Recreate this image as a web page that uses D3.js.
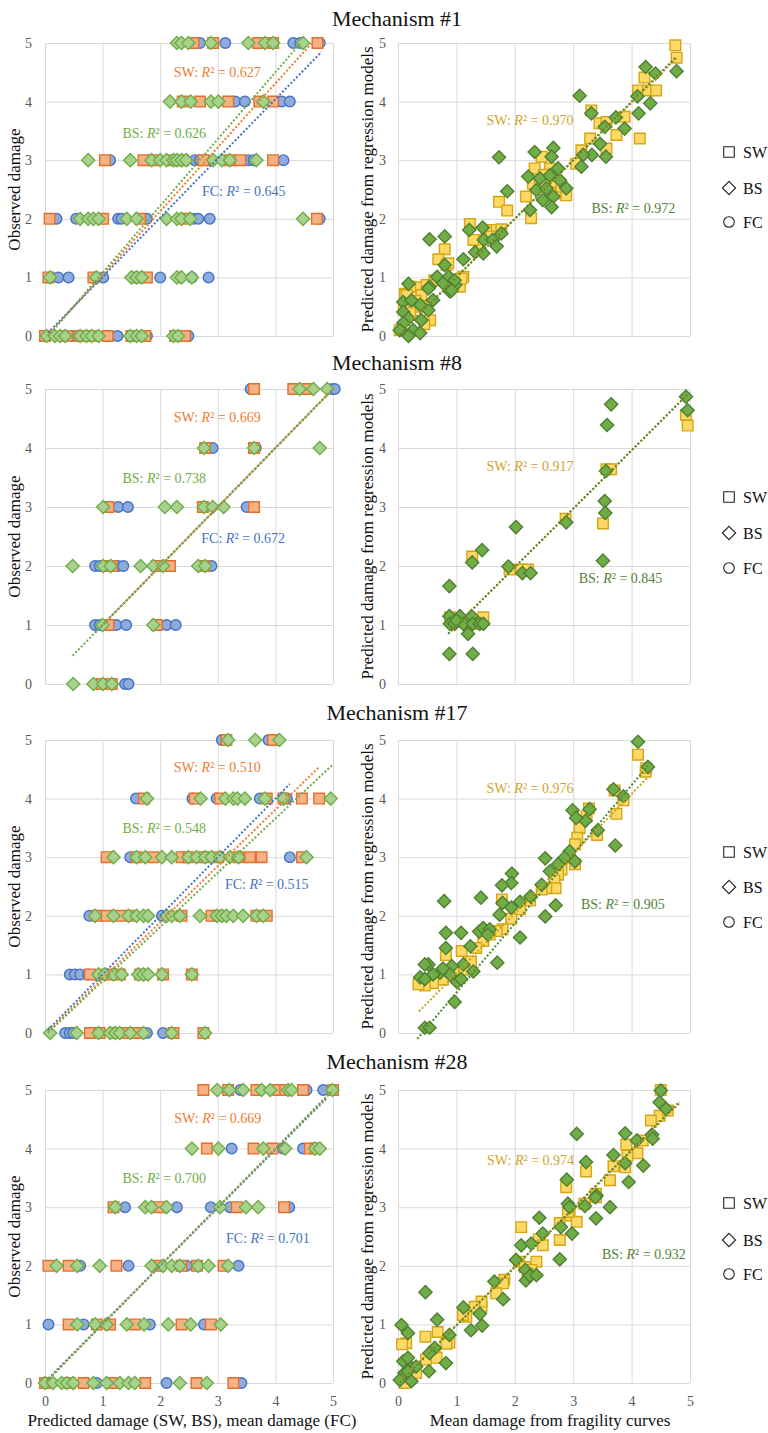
<!DOCTYPE html>
<html>
<head>
<meta charset="utf-8">
<script src="https://cdn.jsdelivr.net/npm/d3@7"></script>
<style>
  body { margin: 0; background: #fff; }
  svg { display: block; }
  svg text { font-family: "Liberation Serif", "Times New Roman", serif; }
</style>
</head>
<body>
<svg id="chart" width="768" height="1433"></svg>
<script>
// ---------- Data ----------
const titles = ["Mechanism #1", "Mechanism #8", "Mechanism #17", "Mechanism #28"];
const seriesNames = ["SW", "BS", "FC"];
const axisTicks = [0, 1, 2, 3, 4, 5];

// R² values shown in each panel
const r2Left  = [["0.627", "0.626", "0.645"], ["0.669", "0.738", "0.672"], ["0.510", "0.548", "0.515"], ["0.669", "0.700", "0.701"]];
const r2Right = [["0.970", "0.972"], ["0.917", "0.845"], ["0.976", "0.905"], ["0.974", "0.932"]];

// Left panels: [observed damage, [predicted / mean damage, ...]]
const m1SW = [[5, [2.58, 2.92, 3.70, 3.96, 4.73]], [4, [2.39, 2.69, 3.18, 3.72, 3.96]],
  [3, [1.04, 1.71, 1.88, 2.23, 2.40, 2.75, 3.21, 3.39, 3.96]], [2, [0.08, 1.01, 1.65, 2.43, 4.72]],
  [1, [0.06, 0.84, 1.59, 1.77]], [0, [0.0, 0.38, 0.61, 0.84, 1.09, 1.50, 1.74, 2.26, 2.43]]];
const m1BS = [[5, [2.29, 2.37, 2.49, 2.88, 3.53, 3.82, 3.96, 4.48]], [4, [2.17, 2.37, 2.53, 2.88, 3.01, 3.79]],
  [3, [0.75, 1.48, 1.85, 2.00, 2.11, 2.23, 2.29, 2.37, 2.45, 2.92, 3.07, 3.21, 3.67]],
  [2, [0.61, 0.75, 0.84, 0.93, 1.42, 1.59, 2.11, 2.29, 2.37, 2.52, 4.48]],
  [1, [0.09, 0.89, 1.50, 1.59, 1.68, 2.29, 2.37, 2.55]],
  [0, [0.03, 0.17, 0.26, 0.35, 0.61, 0.72, 0.81, 0.93, 1.48, 1.59, 1.68, 2.23, 2.31]]];
const m1FC = [[5, [2.69, 3.13, 4.31, 4.43, 4.77]], [4, [3.30, 3.47, 4.11, 4.25]],
  [3, [1.13, 2.60, 2.69, 2.81, 3.53, 3.62, 4.14]], [2, [0.20, 0.54, 1.27, 1.33, 1.77, 2.58, 2.66, 2.86, 4.77]],
  [1, [0.23, 0.41, 1.01, 2.00, 2.34, 2.55, 2.84]], [0, [0.0, 0.43, 0.47, 1.26, 1.77, 2.49]]];

const m8SW = [[5, [3.63, 4.31, 4.54]], [4, [2.78, 3.63]], [3, [1.10, 2.74, 3.63]],
  [2, [1.07, 1.16, 1.94, 2.17, 2.76]], [1, [1.10, 1.94]], [0, [0.98, 1.16]]];
const m8BS = [[5, [4.42, 4.66, 4.90]], [4, [2.76, 3.63, 4.77]], [3, [1.01, 2.08, 2.29, 2.76, 2.91, 3.10]],
  [2, [0.48, 1.01, 1.14, 1.66, 1.88, 2.05, 2.66, 2.78]], [1, [1.00, 1.88]], [0, [0.49, 0.84, 1.01, 1.16]]];
const m8FC = [[5, [3.57, 4.98, 5.03]], [4, [2.91, 3.66]], [3, [1.27, 1.44, 3.50]],
  [2, [0.87, 0.95, 1.27, 1.36, 2.89]], [1, [0.87, 0.95, 1.24, 1.41, 2.11, 2.27]], [0, [0.95, 1.07, 1.39, 1.45]]];

const m17SW = [[5, [3.15, 3.96]], [4, [1.72, 2.60, 3.04, 3.85, 4.14, 4.46, 4.76]],
  [3, [1.07, 1.59, 1.88, 2.37, 2.49, 2.75, 3.01, 3.36, 3.56, 3.76, 4.46]],
  [2, [0.90, 1.07, 1.30, 1.50, 2.37, 2.89, 3.01, 3.67, 3.85]],
  [1, [0.78, 1.07, 1.30, 1.65, 2.05, 2.55]], [0, [0.78, 0.95, 1.20, 1.40, 1.60, 2.23, 2.75]]];
const m17BS = [[5, [3.18, 3.65, 4.07]], [4, [1.77, 2.70, 3.13, 3.27, 3.34, 3.47, 3.82, 4.14, 4.96]],
  [3, [1.19, 1.59, 1.74, 2.03, 2.20, 2.49, 2.63, 2.78, 2.89, 3.04, 3.21, 3.36, 4.54]],
  [2, [0.87, 1.19, 1.45, 1.59, 1.71, 1.79, 2.11, 2.20, 2.34, 2.69, 2.98, 3.07, 3.15, 3.27, 3.44, 3.67, 3.79]],
  [1, [0.93, 1.04, 1.19, 1.33, 1.62, 1.71, 1.79, 2.03, 2.55]],
  [0, [0.09, 0.55, 0.93, 1.13, 1.22, 1.30, 1.48, 1.71, 2.20, 2.78]]];
const m17FC = [[5, [3.07, 3.88]], [4, [1.58, 2.56, 2.98, 3.73, 4.20]], [3, [1.48, 2.72, 4.25]],
  [2, [0.77, 2.03]], [1, [0.43, 0.52, 0.61, 0.75]], [0, [0.35, 0.43, 0.49, 1.77, 2.05]]];

const m28SW = [[5, [2.75, 3.18, 3.67, 4.05, 4.17, 4.48, 5.0]], [4, [2.81, 3.62, 3.95, 4.60, 4.70]],
  [3, [1.19, 1.98, 3.33, 4.15]], [2, [0.06, 0.41, 1.24, 1.98, 2.37, 2.64, 3.10]],
  [1, [0.41, 0.90, 1.13, 1.56, 2.37, 2.88]], [0, [0.0, 0.43, 0.67, 1.20, 1.74, 2.63, 3.27]]];
const m28BS = [[5, [2.99, 3.20, 3.44, 3.76, 3.91, 4.22, 4.28, 4.99]], [4, [2.55, 3.01, 3.79, 4.17, 4.69, 4.77]],
  [3, [1.22, 1.74, 1.85, 2.11, 3.04, 3.49, 3.70]],
  [2, [0.20, 0.56, 0.95, 1.85, 2.05, 2.20, 2.34, 2.66, 2.84, 3.18]],
  [1, [0.56, 0.87, 1.07, 1.42, 1.72, 2.14, 2.53, 3.05]],
  [0, [0.0, 0.14, 0.29, 0.38, 0.49, 0.84, 1.07, 1.30, 1.45, 1.56, 2.34, 2.81]]];
const m28FC = [[5, [3.39, 4.54, 4.83]], [4, [3.24, 4.13, 4.48]], [3, [1.39, 2.29, 2.88, 3.21, 4.24]],
  [2, [0.61, 1.45, 2.46, 3.36]], [1, [0.06, 0.67, 1.82, 2.76]], [0, [0.09, 0.90, 2.11, 3.41]]];

// Right panels: [mean damage from fragility curves, predicted damage]
const m1rSW = [[4.75,4.96],[4.77,4.75],[4.22,4.41],[4.11,4.19],[4.28,4.19],[4.42,4.19],[4.14,3.37],[3.31,3.85],
  [3.45,3.63],[3.57,3.65],[3.88,3.74],[3.74,3.43],[3.29,3.37],[3.57,3.20],[3.14,3.17],[3.05,2.94],[2.46,3.06],
  [2.34,2.86],[2.60,2.86],[2.19,2.38],[2.31,2.60],[2.43,2.63],[2.66,2.66],[2.77,2.43],[2.88,2.40],[2.70,2.55],
  [2.80,2.55],[2.50,2.75],[2.60,2.45],[2.28,2.01],[1.73,2.29],[1.87,2.14],[1.23,1.91],[1.52,1.81],[1.69,1.81],
  [1.77,1.82],[1.32,1.64],[1.40,1.55],[1.60,1.70],[0.80,1.48],[0.69,1.31],[0.83,1.21],[0.86,1.24],[1.29,1.64],
  [1.12,1.01],[1.06,0.84],[1.09,0.98],[0.62,0.95],[0.95,0.90],[0.35,0.83],[0.21,0.84],[0.49,0.87],[0.12,0.72],
  [0.15,0.70],[0.40,0.70],[0.30,0.60],[0.40,0.50],[0.10,0.45],[0.21,0.39],[0.55,0.27],[0.45,0.20],[0.03,0.10]];
const m1rBS = [[4.24,4.59],[4.41,4.48],[4.77,4.52],[4.10,4.09],[4.12,3.80],[4.32,3.97],[3.11,4.10],[3.31,3.80],
  [3.73,3.73],[3.54,3.57],[3.88,3.54],[3.46,3.28],[3.32,3.09],[3.56,3.06],[3.17,3.09],[3.14,2.89],[2.34,3.14],
  [2.66,3.21],[2.63,3.06],[1.73,3.05],[1.87,2.47],[2.23,2.72],[2.43,2.69],[2.60,2.74],[2.74,2.86],[2.77,2.66],
  [2.88,2.52],[2.37,2.49],[2.54,2.52],[2.66,2.38],[2.48,2.32],[2.26,2.15],[2.63,2.20],[0.54,1.65],[0.80,1.70],
  [1.22,1.81],[1.45,1.85],[1.47,1.64],[1.62,1.64],[1.69,1.53],[1.77,1.75],[1.32,1.43],[1.46,1.41],[1.12,1.31],
  [0.80,1.21],[0.67,1.01],[0.87,1.01],[0.98,0.87],[0.54,0.84],[0.18,0.89],[0.89,0.76],[0.77,0.90],[0.97,0.95],
  [0.92,0.78],[0.52,0.81],[0.09,0.58],[0.23,0.61],[0.38,0.53],[0.60,0.61],[0.52,0.44],[0.09,0.41],[0.18,0.30],
  [0.40,0.27],[0.09,0.22],[0.03,0.10],[0.26,0.10],[0.38,0.05],[0.18,0.0]];

const m8rSW = [[4.93,4.56],[4.96,4.38],[3.57,3.64],[3.65,3.64],[3.51,2.72],[2.87,2.80],[1.27,2.16],[1.91,1.94],
  [2.11,1.94],[2.23,1.94],[1.46,1.13],[0.89,1.13],[1.40,1.02],[1.29,1.02],[1.00,1.05],[1.20,1.05]];
const m8rBS = [[4.93,4.87],[4.96,4.64],[3.65,4.74],[3.58,4.39],[3.54,3.10],[3.55,2.90],[3.56,3.61],[3.51,2.09],
  [2.88,2.74],[2.02,2.66],[1.89,1.99],[2.13,1.88],[2.27,1.88],[1.27,2.06],[1.44,2.27],[0.88,1.66],[0.88,1.15],
  [1.06,1.15],[1.26,1.15],[0.89,1.02],[0.97,1.02],[1.12,1.02],[1.28,1.02],[1.40,1.02],[1.46,1.02],[1.20,0.85],
  [0.88,0.51],[1.28,0.51],[1.00,1.08]];

const m17rSW = [[4.11,4.75],[4.24,4.46],[4.25,4.52],[3.71,4.14],[3.74,3.74],[3.86,3.97],[3.41,3.38],[3.27,3.83],
  [3.23,3.70],[3.11,3.50],[3.07,3.33],[3.03,3.22],[3.03,2.88],[2.94,2.99],[2.80,2.79],[2.74,2.70],[2.68,2.60],
  [2.70,2.47],[2.54,2.47],[2.46,2.45],[2.26,2.26],[2.09,2.11],[1.94,1.95],[1.78,2.28],[1.79,1.77],[1.69,1.74],
  [1.57,1.68],[1.46,1.57],[1.34,1.45],[1.25,1.22],[1.09,1.40],[0.82,1.33],[1.12,1.08],[0.95,1.03],[0.77,0.91],
  [0.60,0.85],[0.46,0.81],[0.35,0.83]];
const m17rBS = [[4.11,4.97],[4.28,4.54],[3.69,4.16],[3.86,4.04],[3.72,3.20],[3.42,3.46],[3.28,3.82],[3.21,3.62],
  [2.99,3.80],[3.05,3.67],[3.03,2.93],[2.94,3.10],[2.85,2.99],[2.74,2.88],[2.52,2.98],[2.46,2.53],[2.60,2.76],
  [2.70,2.18],[2.52,1.99],[2.27,2.33],[2.09,2.24],[2.09,1.63],[1.95,2.72],[1.94,2.56],[1.78,2.52],[1.79,2.22],
  [1.74,2.02],[1.94,2.14],[1.42,2.31],[0.79,2.25],[0.82,1.71],[0.82,1.45],[1.08,1.71],[1.24,1.48],[1.39,1.73],
  [1.46,1.79],[1.57,1.77],[1.70,1.20],[1.12,1.17],[0.92,1.14],[0.89,1.00],[0.72,1.03],[0.60,1.00],[0.52,1.17],
  [0.46,1.17],[0.38,0.95],[0.46,0.92],[1.01,0.87],[1.08,0.92],[0.97,0.53],[0.46,0.09],[0.54,0.09],[0.77,1.10],
  [1.29,1.05],[1.54,1.68]];

const m28rSW = [[4.50,5.00],[4.48,4.56],[4.62,4.65],[4.33,4.48],[4.19,4.14],[4.10,3.92],[3.91,4.07],[3.93,3.88],
  [3.89,3.68],[3.69,3.70],[3.63,3.46],[3.22,3.61],[2.88,3.34],[3.19,3.06],[3.39,3.23],[3.39,3.17],[2.94,2.86],
  [3.06,2.75],[2.91,2.92],[2.77,2.73],[2.77,2.44],[2.41,2.45],[2.48,2.35],[2.11,2.66],[2.07,2.07],[2.17,1.98],
  [2.37,2.07],[2.28,1.93],[2.22,1.87],[1.82,1.76],[1.80,1.70],[1.68,1.53],[1.43,1.30],[1.43,1.39],[1.31,1.30],
  [1.17,1.13],[1.11,1.16],[0.47,0.79],[0.68,0.87],[0.14,0.68],[0.07,0.66],[0.88,0.69],[0.83,0.67],[0.63,0.54],
  [0.57,0.45],[0.66,0.43],[0.48,0.40],[0.31,0.17],[0.14,0.09],[0.11,0.0]];
const m28rBS = [[4.50,4.99],[4.48,4.79],[4.59,4.68],[4.35,4.24],[4.36,4.17],[4.09,4.14],[3.89,4.26],[4.20,3.71],
  [3.89,3.75],[3.95,3.43],[3.69,3.89],[3.06,4.25],[3.22,3.77],[2.89,3.47],[2.91,3.06],[2.94,3.00],[3.20,3.02],
  [3.40,3.20],[3.38,3.17],[3.63,3.00],[3.39,2.81],[2.98,2.55],[2.79,2.66],[2.77,2.11],[2.42,2.82],[2.48,2.55],
  [2.11,2.35],[2.28,2.38],[2.02,2.10],[2.18,1.93],[2.19,1.75],[2.26,1.83],[2.37,1.84],[1.65,1.73],[1.80,1.43],
  [1.12,1.29],[1.25,0.90],[1.40,1.18],[1.44,0.98],[0.67,1.08],[0.47,1.55],[0.06,0.99],[0.17,0.85],[0.09,0.37],
  [0.17,0.43],[0.88,0.82],[0.82,0.34],[0.53,0.20],[0.63,0.60],[0.54,0.51],[0.23,0.26],[0.31,0.28],[0.11,0.17],
  [0.03,0.05],[0.23,0.03],[0.17,0.20]];

// Linear trend lines: [slope, intercept, x start, x end] for SW, BS, FC
const trendLeft1  = [[1.09, -0.05, 0.05, 4.63], [1.14, -0.06, 0.05, 4.44], [1.01, 0.0, 0.05, 4.80]];
const trendLeft8  = [[1.00, 0.0, 0.98, 4.95], [1.00, 0.0, 0.48, 4.98], [1.00, 0.0, 0.87, 5.00]];
const trendLeft17 = [[0.96, -0.03, 0.05, 4.75], [0.925, -0.04, 0.05, 5.00], [1.00, 0.0, 0.05, 4.25]];
const trendLeft28 = [[1.00, 0.0, 0.03, 5.00], [1.00, 0.0, 0.03, 5.00], [0.99, 0.02, 0.06, 4.90]];
// SW, BS
const trendRight1  = [[0.99, 0.02, 0.03, 4.77], [1.00, 0.0, 0.03, 4.77]];
const trendRight8  = [[0.99, 0.0, 0.86, 4.96], [0.99, 0.0, 0.86, 4.96]];
const trendRight17 = [[1.02, 0.0, 0.36, 4.28], [1.18, -0.49, 0.33, 4.28]];
const trendRight28 = [[0.99, 0.0, 0.03, 4.82], [1.00, -0.02, 0.03, 4.82]];

// ---------- Layout & styles ----------
const serif = '"Liberation Serif","Times New Roman",serif';
const rows = [
  { top: 43,   bottom: 336,  titleY: 26,   legendY: [152, 188, 222],
    left: [m1SW, m1BS, m1FC], right: [m1rSW, m1rBS], tl: trendLeft1, tr: trendRight1,
    lblL: [[2.99, 4.50], [2.07, 3.46], [3.45, 2.47]], lblR: [[2.26, 3.68], [4.03, 2.18]] },
  { top: 389,  bottom: 684,  titleY: 370,  legendY: [497, 533, 568],
    left: [m8SW, m8BS, m8FC], right: [m8rSW, m8rBS], tl: trendLeft8, tr: trendRight8,
    lblL: [[2.99, 4.52], [2.07, 3.49], [3.44, 2.47]], lblR: [[2.26, 3.69], [3.81, 1.80]] },
  { top: 740,  bottom: 1033, titleY: 720,  legendY: [852, 887, 922],
    left: [m17SW, m17BS, m17FC], right: [m17rSW, m17rBS], tl: trendLeft17, tr: trendRight17,
    lblL: [[2.99, 4.53], [2.07, 3.49], [3.85, 2.54]], lblR: [[2.26, 4.18], [3.85, 2.20]] },
  { top: 1090, bottom: 1383, titleY: 1069, legendY: [1203, 1240, 1274],
    left: [m28SW, m28BS, m28FC], right: [m28rSW, m28rBS], tl: trendLeft28, tr: trendRight28,
    lblL: [[3.00, 4.52], [2.07, 3.49], [3.87, 2.47]], lblR: [[2.27, 3.80], [4.21, 2.20]] }
];

const leftX = [45, 333];
const rightX = [398, 690];

const leftStyle = [
  { fill: "#f4b183", stroke: "#e46f2c", text: "#ed7d31", line: "#ed7d31" },   // SW
  { fill: "#a9d18e", stroke: "#6fae46", text: "#70ad47", line: "#70ad47" },   // BS
  { fill: "#8faadc", stroke: "#4472c4", text: "#4472c4", line: "#4472c4" }    // FC
];
const rightStyle = [
  { fill: "#ffd966", stroke: "#d4a514", text: "#d0a42c", line: "#c8a21c" },   // SW
  { fill: "#70ad47", stroke: "#4f7f32", text: "#548235", line: "#4f8a2e" }    // BS
];

const svg = d3.select("#chart");
const gridColor = "#d9d9d9";
const tickColor = "#595959";

const shapePath = {
  SW: d3.symbol(d3.symbolSquare, 112)(),
  BS: "M0,-6.6L6.6,0L0,6.6L-6.6,0Z",
  FC: d3.symbol(d3.symbolCircle, 88)()
};

function flatten(levels) {
  return levels.flatMap(([obs, xs]) => xs.map(p => [p, obs]));
}

function styleAxis(sel) {
  sel.attr("font-family", serif).attr("font-size", 14);
  sel.select(".domain").remove();
  sel.selectAll("line").attr("stroke", gridColor);
  sel.selectAll("text").attr("fill", tickColor).attr("font-family", serif)
    .style("font-family", serif).style("font-size", "14px");
}

function drawGrid(g, x, y, showX, tickPad) {
  const yAxis = d3.axisLeft(y).tickValues(axisTicks).tickSize(-(x.range()[1] - x.range()[0]))
    .tickPadding(tickPad).tickFormat(d3.format("d"));
  g.append("g").attr("transform", `translate(${x.range()[0]},0)`).call(yAxis).call(styleAxis);

  const xAxis = d3.axisBottom(x).tickValues(axisTicks).tickSize(-(y.range()[0] - y.range()[1]))
    .tickPadding(13).tickFormat(showX ? d3.format("d") : "");
  g.append("g").attr("transform", `translate(0,${y.range()[0]})`).call(xAxis).call(styleAxis);
}

function drawTrend(g, x, y, t, color) {
  const [a, b, x0, x1] = t;
  g.append("line")
    .attr("x1", x(x0)).attr("y1", y(a * x0 + b))
    .attr("x2", x(x1)).attr("y2", y(a * x1 + b))
    .attr("stroke", color).attr("stroke-width", 2)
    .attr("stroke-dasharray", "2,2");
}

function drawLabel(g, x, y, pos, name, value, color) {
  const t = g.append("text")
    .attr("x", x(pos[0])).attr("y", y(pos[1])).attr("dy", "0.35em")
    .attr("text-anchor", "middle").attr("fill", color).style("font-size", "14px");
  t.append("tspan").text(name + ": ");
  t.append("tspan").style("font-style", "italic").text("R");
  t.append("tspan").text("\u00b2 = " + value);
}

rows.forEach((row, i) => {
  const last = i === rows.length - 1;
  const yL = d3.scaleLinear([0, 5], [row.bottom, row.top]);
  const xL = d3.scaleLinear([0, 5], leftX);
  const xR = d3.scaleLinear([0, 5], rightX);

  // Title
  svg.append("text").attr("x", 397).attr("y", row.titleY).attr("text-anchor", "middle")
    .style("font-size", "22px").attr("fill", "#111").text(titles[i]);

  // ---- Left panel: observed vs predicted ----
  const gL = svg.append("g");
  drawGrid(gL, xL, yL, last, 13);
  // draw order: FC circles, SW squares, BS diamonds on top
  [2, 0, 1].forEach(s => {
    gL.append("g").selectAll("path").data(flatten(row.left[s])).join("path")
      .attr("d", shapePath[seriesNames[s]])
      .attr("transform", d => `translate(${xL(d[0])},${yL(d[1])})`)
      .attr("fill", leftStyle[s].fill).attr("stroke", leftStyle[s].stroke).attr("stroke-width", 1.4);
  });
  [2, 0, 1].forEach(s => drawTrend(gL, xL, yL, row.tl[s], leftStyle[s].line));
  [0, 1, 2].forEach(s => drawLabel(gL, xL, yL, row.lblL[s], seriesNames[s], r2Left[i][s], leftStyle[s].text));

  gL.append("text")
    .attr("transform", `translate(14,${(row.top + row.bottom) / 2}) rotate(-90)`)
    .attr("dy", "0.35em").attr("text-anchor", "middle").style("font-size", "17px")
    .attr("fill", "#111").text("Observed damage");

  // ---- Right panel: regression vs fragility curves ----
  const gR = svg.append("g");
  drawGrid(gR, xR, yL, last, 12);
  [0, 1].forEach(s => {
    gR.append("g").selectAll("path").data(row.right[s]).join("path")
      .attr("d", shapePath[seriesNames[s]])
      .attr("transform", d => `translate(${xR(d[0])},${yL(d[1])})`)
      .attr("fill", rightStyle[s].fill).attr("stroke", rightStyle[s].stroke).attr("stroke-width", 1.4);
  });
  [0, 1].forEach(s => drawTrend(gR, xR, yL, row.tr[s], rightStyle[s].line));
  [0, 1].forEach(s => drawLabel(gR, xR, yL, row.lblR[s], seriesNames[s], r2Right[i][s], rightStyle[s].text));

  gR.append("text")
    .attr("transform", `translate(367,${(row.top + row.bottom) / 2}) rotate(-90)`)
    .attr("dy", "0.35em").attr("text-anchor", "middle").style("font-size", "17px")
    .attr("fill", "#111").text("Predicted damage from regression models");

  // ---- Legend ----
  const gLeg = svg.append("g");
  seriesNames.forEach((name, s) => {
    gLeg.append("path").attr("d", shapePath[name])
      .attr("transform", `translate(729,${row.legendY[s]})`)
      .attr("fill", "#fff").attr("stroke", "#222").attr("stroke-width", 1.1);
    gLeg.append("text").attr("x", 743).attr("y", row.legendY[s]).attr("dy", "0.35em")
      .style("font-size", "16px").attr("fill", "#111").text(name);
  });
});

// Axis titles under the bottom row
svg.append("text").attr("x", 192).attr("y", 1426).attr("text-anchor", "middle")
  .style("font-size", "17px").attr("fill", "#111").text("Predicted damage (SW, BS), mean damage (FC)");
svg.append("text").attr("x", 550).attr("y", 1426).attr("text-anchor", "middle")
  .style("font-size", "17px").attr("fill", "#111").text("Mean damage from fragility curves");
</script>
</body>
</html>
